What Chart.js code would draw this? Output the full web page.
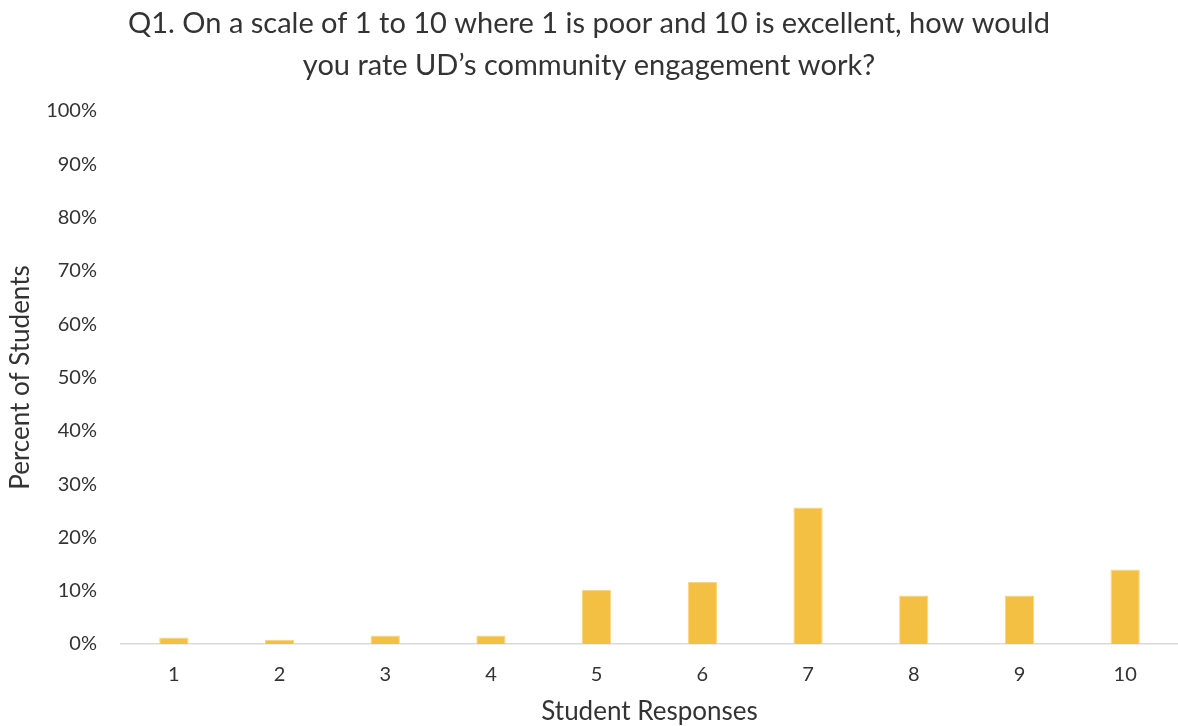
<!DOCTYPE html>
<html>
<head>
<meta charset="utf-8">
<script src="https://cdn.jsdelivr.net/npm/chart.js@4"></script>
<style>
  body { margin: 0; background: #fff; }
  canvas { display: block; }
</style>
</head>
<body>
<canvas id="q1Chart" width="1178" height="726"></canvas>
<script>
const ctx = document.getElementById('q1Chart').getContext('2d');

// dados
const responses = ['1', '2', '3', '4', '5', '6', '7', '8', '9', '10'];
const percentStudents = [1.2, 0.8, 1.6, 1.6, 10.2, 11.7, 25.6, 9.1, 9.1, 14.0];
const yTicks = [0, 10, 20, 30, 40, 50, 60, 70, 80, 90, 100];

const titleLines = [
  'Q1. On a scale of 1 to 10 where 1 is poor and 10 is excellent, how would',
  'you rate UD\u2019s community engagement work?'
];

const chart = new Chart(ctx, {
  type: 'bar',
  data: {
    labels: responses,
    datasets: [{
      label: 'Percent of Students',
      data: percentStudents,
      backgroundColor: '#f4c043',
      borderColor: '#f8d57e',
      borderWidth: 1,
      barPercentage: 0.277,
      categoryPercentage: 1
    }]
  },
  options: {
    responsive: false,
    animation: false,
    layout: { padding: 0 },
    scales: {
      x: {
        grid: { display: false, drawTicks: false },
        border: { display: true, color: '#d9d9d9', width: 1.5 },
        ticks: {
          color: '#333333',
          font: { family: 'Lato', size: 20 },
          padding: 19
        },
        title: {
          display: true,
          text: 'Student Responses',
          color: '#333333',
          font: { family: 'Lato', size: 26, lineHeight: 1.1 },
          padding: { top: 0, bottom: 0 }
        },
        afterFit(scale) { scale.height = 82; }
      },
      y: {
        min: 0,
        max: 100,
        grid: { display: false, drawTicks: false },
        border: { display: false },
        afterBuildTicks(scale) {
          scale.ticks = yTicks.map(v => ({ value: v }));
        },
        ticks: {
          color: '#333333',
          font: { family: 'Lato', size: 20 },
          padding: 24,
          callback: v => v + '%'
        },
        title: {
          display: true,
          text: 'Percent of Students',
          color: '#333333',
          font: { family: 'Lato', size: 26, lineHeight: 1.1 },
          padding: { top: 6, bottom: 0 }
        },
        afterFit(scale) { scale.width = 121; }
      }
    },
    plugins: {
      legend: { display: false },
      tooltip: { enabled: false },
      title: {
        display: true,
        text: titleLines,
        color: '#333333',
        font: { family: 'Lato', size: 29, weight: 'normal', lineHeight: 42 / 29 },
        padding: { top: 3, bottom: 24 }
      }
    }
  }
});
</script>
</body>
</html>
